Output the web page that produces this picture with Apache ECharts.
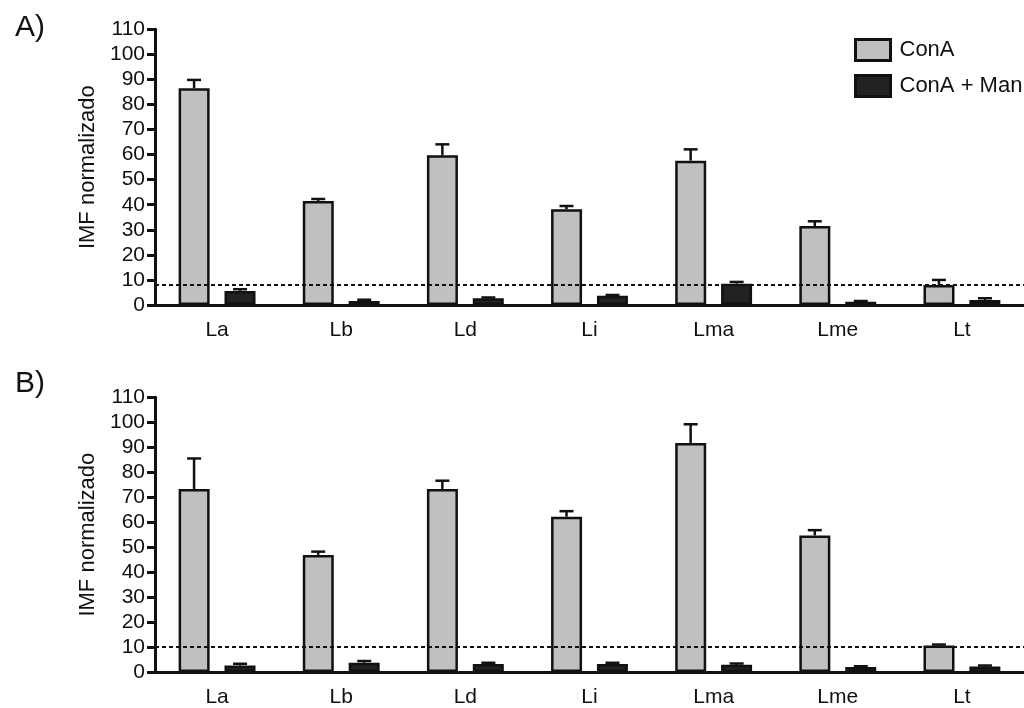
<!DOCTYPE html>
<html>
<head>
<meta charset="utf-8">
<script src="https://cdn.jsdelivr.net/npm/echarts@6/dist/echarts.min.js"></script>
<style>
  html, body { margin: 0; padding: 0; background: #fff; }
  #container { width: 1024px; height: 708px; }
</style>
</head>
<body>
<div id="container"></div>
<script>
// categorias (especies)
var categories = ['La', 'Lb', 'Ld', 'Li', 'Lma', 'Lme', 'Lt'];
var yTicks = [0, 110, 10]; // min, max, intervalo

// panel A
var conA_A = [86.5, 41.5, 59.7, 38.2, 57.6, 31.5, 8.0];
var conA_A_err = [3.3, 0.8, 4.4, 1.3, 4.5, 1.9, 2.0];
var man_A = [5.6, 1.6, 2.7, 3.7, 8.5, 1.3, 2.0];
var man_A_err = [0.7, 0.5, 0.3, 0.3, 0.7, 0.3, 0.7];
var cut_A = 8.2;

// panel B
var conA_B = [73.3, 46.9, 73.3, 62.2, 91.7, 54.7, 10.6];
var conA_B_err = [12.2, 1.3, 3.3, 2.2, 7.5, 2.1, 0.4];
var man_B = [2.6, 3.7, 3.2, 3.2, 2.9, 2.0, 2.2];
var man_B_err = [0.7, 0.7, 0.5, 0.5, 0.5, 0.3, 0.4];
var cut_B = 10.2;

var font = '"Liberation Sans", Arial, Helvetica, sans-serif';
var ink = '#111';
var barW = 31;
var barOff = 23; // distancia del centro de cada barra al centro de la categoria

var dom = document.getElementById('container');
var myChart = echarts.init(dom);

function xAxisFor(idx) {
	return {
		type: 'category', gridIndex: idx, data: categories,
		axisLine: { lineStyle: { color: ink, width: 3 } },
		axisTick: { alignWithLabel: true, length: 8, lineStyle: { color: ink, width: 3 } },
		axisLabel: { color: ink, fontFamily: font, fontSize: 21, margin: 15 }
	};
}

function yAxisFor(idx) {
	return {
		type: 'value', gridIndex: idx, min: yTicks[0], max: yTicks[1], interval: yTicks[2],
		name: 'IMF normalizado', nameLocation: 'middle', nameGap: 47,
		nameTextStyle: { color: ink, fontFamily: font, fontSize: 22 },
		axisLine: { show: true, lineStyle: { color: ink, width: 3 } },
		axisTick: { show: true, length: 8, lineStyle: { color: ink, width: 3 } },
		axisLabel: { color: ink, fontFamily: font, fontSize: 21, margin: 10 },
		splitLine: { show: false }
	};
}

function barSeries(name, idx, vals, color, cut) {
	var s = {
		name: name, type: 'bar', xAxisIndex: idx, yAxisIndex: idx,
		data: vals, barWidth: barW, barGap: '48%',
		itemStyle: { color: color, borderColor: ink, borderWidth: 2.5 },
		emphasis: { disabled: true }
	};
	if (cut != null) {
		s.markLine = {
			silent: true, symbol: 'none', label: { show: false },
			lineStyle: { color: ink, width: 2.2, type: [4, 3] },
			data: [{ yAxis: cut }]
		};
	}
	return s;
}

// barras de error (solo hacia arriba)
function errSeries(idx, vals, errs, offset) {
	return {
		type: 'custom', xAxisIndex: idx, yAxisIndex: idx, z: 3, silent: true,
		data: vals.map(function (v, i) { return [i, v, v + errs[i]]; }),
		renderItem: function (params, api) {
			var c = api.coord([api.value(0), api.value(1)]);
			var t = api.coord([api.value(0), api.value(2)]);
			var x = c[0] + offset;
			return {
				type: 'group', children: [
					{ type: 'line', shape: { x1: x, y1: c[1], x2: x, y2: t[1] }, style: { stroke: ink, lineWidth: 2.5 } },
					{ type: 'line', shape: { x1: x - 7, y1: t[1], x2: x + 7, y2: t[1] }, style: { stroke: ink, lineWidth: 2.5 } }
				]
			};
		}
	};
}

var option = {
	animation: false,
	title: [
		{ text: 'A)', left: 10, top: 8, textStyle: { fontFamily: font, fontSize: 30, fontWeight: 'normal', color: ink } },
		{ text: 'B)', left: 10, top: 364, textStyle: { fontFamily: font, fontSize: 30, fontWeight: 'normal', color: ink } }
	],
	legend: {
		left: 849, top: 33, orient: 'vertical', itemWidth: 35, itemHeight: 21, itemGap: 12,
		icon: 'rect', selectedMode: false,
		itemStyle: { borderColor: ink, borderWidth: 3 },
		textStyle: { fontFamily: font, fontSize: 22, color: ink, padding: [0, 0, 0, 4] },
		data: ['ConA', 'ConA + Man']
	},
	grid: [
		{ left: 155, top: 29.3, width: 873, height: 275.7 },
		{ left: 155, top: 397.3, width: 873, height: 276 }
	],
	xAxis: [xAxisFor(0), xAxisFor(1)],
	yAxis: [yAxisFor(0), yAxisFor(1)],
	series: [
		barSeries('ConA', 0, conA_A, '#c0c0c0', cut_A),
		barSeries('ConA + Man', 0, man_A, '#222222'),
		errSeries(0, conA_A, conA_A_err, -barOff),
		errSeries(0, man_A, man_A_err, barOff),
		barSeries('ConA', 1, conA_B, '#c0c0c0', cut_B),
		barSeries('ConA + Man', 1, man_B, '#222222'),
		errSeries(1, conA_B, conA_B_err, -barOff),
		errSeries(1, man_B, man_B_err, barOff)
	]
};

myChart.setOption(option);
</script>
</body>
</html>
